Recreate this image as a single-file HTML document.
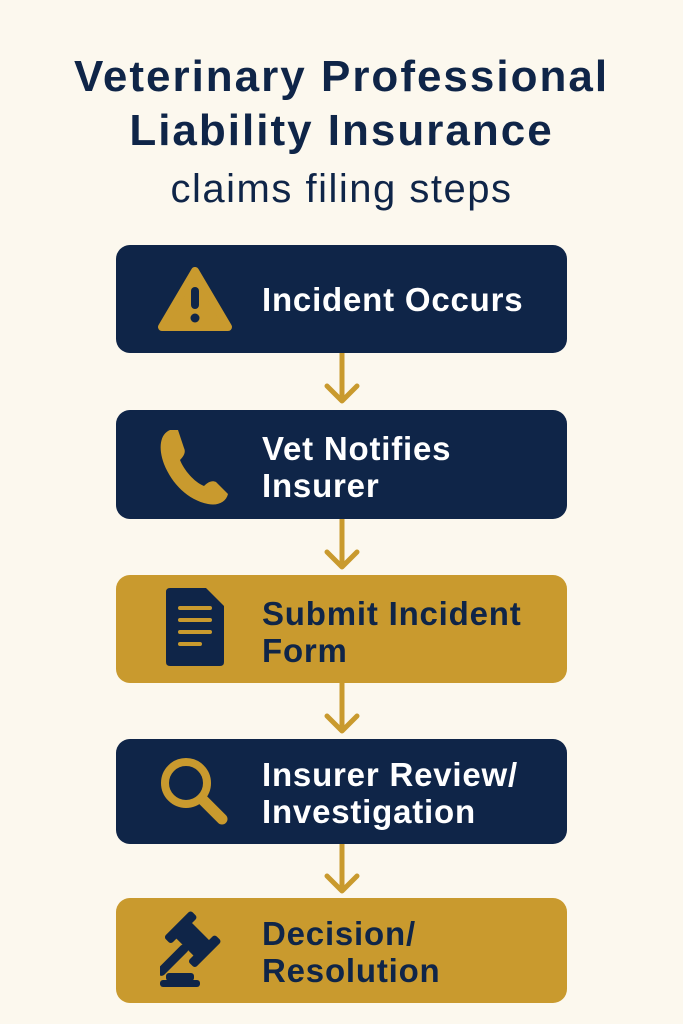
<!DOCTYPE html>
<html><head><meta charset="utf-8"><style>
body{margin:0;width:683px;height:1024px;background:#fcf8ee;position:relative;overflow:hidden;font-family:"Liberation Sans",sans-serif}
.t{position:absolute;left:0;width:683px;text-align:center;color:#0f2548}
.box{position:absolute;left:116px;width:451px;border-radius:14px}
.n{background:#0f2548;color:#fff}
.g{background:#c99a2e;color:#0f2548}
.lbl{position:absolute;left:146px;font-size:33px;line-height:37px;font-weight:bold;letter-spacing:0.8px;white-space:nowrap}
.ic{position:absolute;left:42px}
.ar{position:absolute;left:0;top:0}
</style></head><body>
<div class="t" style="top:50px;font-size:44px;font-weight:bold;line-height:54px;letter-spacing:2px">Veterinary Professional<br>Liability Insurance</div>
<div class="t" style="top:166px;font-size:40px;line-height:46px;letter-spacing:1.5px">claims filing steps</div>

<svg class="ar" width="683" height="1024">
<g stroke="#c99a2e" stroke-width="5" fill="none" stroke-linecap="round" stroke-linejoin="round">
<path d="M342 353V400M327 386L342 401L357 386"/>
<path d="M342 519V566M327 552L342 567L357 552"/>
<path d="M342 683V730M327 716L342 731L357 716"/>
<path d="M342 844V890M327 876L342 891L357 876"/>
</g></svg>

<div class="box n" style="top:245px;height:108px">
<svg class="ic" style="top:22px" width="74" height="66"><path d="M37 4L4 60H70Z" fill="#c99a2e" stroke="#c99a2e" stroke-width="8" stroke-linejoin="round"/><rect x="33" y="20" width="8" height="22" rx="4" fill="#0f2548"/><circle cx="37" cy="51" r="4.5" fill="#0f2548"/></svg>
<div class="lbl" style="top:36px">Incident Occurs</div></div>

<div class="box n" style="top:410px;height:109px">
<svg class="ic" style="top:16px" width="74" height="80"><path d="M12 4C2 8 0 22 6 38C14 58 30 74 50 78C60 80 68 76 70 68L58 56C54 54 50 56 46 60C36 56 26 44 22 34C26 30 28 26 26 22L20 4Z" fill="#c99a2e"/></svg>
<div class="lbl" style="top:20px">Vet Notifies<br>Insurer</div></div>

<div class="box g" style="top:575px;height:108px">
<svg class="ic" style="top:13px;left:48px" width="62" height="80"><path d="M6 0H42L60 18V74Q60 78 56 78H6Q2 78 2 74V4Q2 0 6 0Z" fill="#0f2548"/><g stroke="#c99a2e" stroke-width="4" stroke-linecap="round"><path d="M16 20H46M16 32H46M16 44H46M16 56H36"/></g></svg>
<div class="lbl" style="top:20px">Submit Incident<br>Form</div></div>

<div class="box n" style="top:739px;height:105px">
<svg class="ic" style="top:16px" width="80" height="76"><circle cx="28" cy="28" r="21" fill="none" stroke="#c99a2e" stroke-width="8"/><path d="M44 44L64 64" stroke="#c99a2e" stroke-width="11" stroke-linecap="round"/></svg>
<div class="lbl" style="top:17px">Insurer Review/<br>Investigation</div></div>

<div class="box g" style="top:898px;height:105px">
<svg class="ic" style="top:12px;left:44px" width="76" height="80"><g transform="rotate(45 32 30)"><rect x="14" y="18" width="36" height="22" rx="3" fill="#0f2548"/><rect x="10" y="10" width="10" height="38" rx="3" fill="#0f2548"/><rect x="44" y="10" width="10" height="38" rx="3" fill="#0f2548"/><rect x="28" y="38" width="9" height="40" rx="4" fill="#0f2548"/></g><rect x="0" y="70" width="40" height="7" rx="3" fill="#0f2548"/><rect x="6" y="63" width="28" height="8" rx="3" fill="#0f2548"/></svg>
<div class="lbl" style="top:17px">Decision/<br>Resolution</div></div>
</body></html>
